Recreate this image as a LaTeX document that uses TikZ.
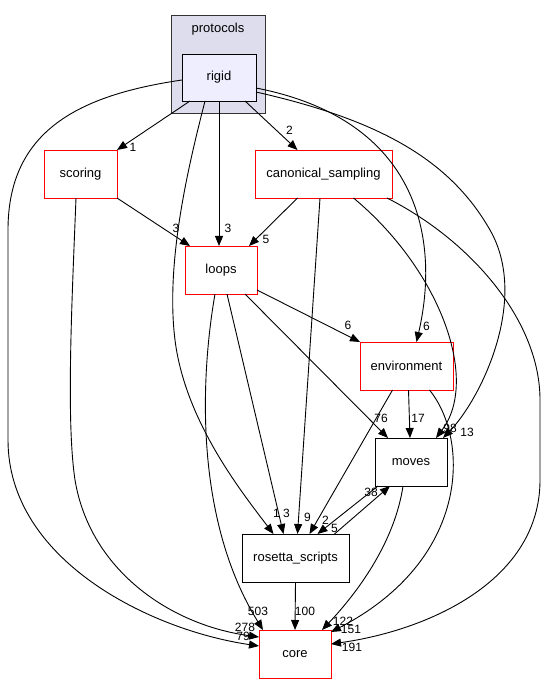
\documentclass[tikz,border=0pt]{standalone}
\usepackage{fontspec}
\setmainfont{Liberation Sans}
\usetikzlibrary{arrows.meta, positioning}
\tikzset{
dirbox/.style={rectangle, draw, line width=0.9pt, minimum width=72pt, minimum height=48pt, inner sep=0pt, outer sep=0pt, font=\fontsize{13}{15}\selectfont},
redbox/.style={dirbox, draw=red},
dep/.style={-{Triangle[length=10pt,width=8pt]}, line width=0.9pt},
lbl/.style={font=\fontsize{12}{12}\selectfont, inner sep=0pt},
% >=latex,
}

\begin{document}
\begin{tikzpicture}[x=1pt, y=-1pt]
\useasboundingbox (0,0) rectangle (546,684);
% Nodes
\node (protocols) [draw=black!80, fill={rgb,255:red,221;green,221;blue,238}, line width=0.9pt, minimum width=94pt, minimum height=98pt, outer sep=0pt] at (218,64) {};
\node (protlabel) [below=7.5pt of protocols.north, inner sep=0pt, font=\fontsize{13}{15}\selectfont] {protocols};
\node (rigid) [dirbox, fill={rgb,255:red,238;green,238;blue,255}, minimum width=74pt, minimum height=47pt] at (219,77.5) {rigid};
\node (scoring) [redbox, minimum width=73pt] at (80.5,174) {scoring};
\node (canonical) [redbox, minimum width=137pt] at (323.5,174) {canonical\_sampling};
\node (loops) [redbox] at (221,270) {loops};
\node (env) [redbox, minimum width=93pt] at (406.5,366) {environment};
\node (moves) [dirbox] at (411,462) {moves};
\node (rosetta) [dirbox, minimum width=107pt] at (295.5,558) {rosetta\_scripts};
\node (core) [redbox] at (295,654) {core};

% Connectors
\begin{scope}[dep]
\draw ([xshift=-29pt]rigid.south) -- (scoring.north east) node[lbl, at end, xshift=16pt, yshift=3pt] {1};
\draw ([xshift=26pt]rigid.south) -- ([xshift=-26pt]canonical.north) node[lbl, at end, xshift=-8pt, yshift=20pt] {2};
\draw (rigid.south) -- ([xshift=-2pt]loops.north) node[lbl, at end, xshift=9pt, yshift=18pt] {3};
\draw ([xshift=-14pt]rigid.south) .. controls (190,160) and (165,260) .. (175,340) .. controls (185,420) and (240,490) .. ([xshift=-22pt]rosetta.north) node[lbl, at end, xshift=3pt, yshift=21pt] {1};
\draw ([yshift=-10.5pt]rigid.east) .. controls (420,120) and (440,240) .. ([xshift=10pt]env.north) node[lbl, at end, xshift=10pt, yshift=16pt] {6};
\draw ([yshift=-14.5pt]rigid.east) .. controls (380,120) and (450,160) .. (490,230) .. controls (530,300) and (480,400) .. ([xshift=32pt]moves.north) node[lbl, at end, xshift=24pt, yshift=6pt] {13};
\draw ([yshift=-2.5pt]rigid.west) .. controls (80,95) and (8,130) .. (8,230) -- (8,440) .. controls (8,560) and (150,630) .. ([yshift=8pt]core.west) node[lbl, at end, xshift=-16pt, yshift=10pt] {79};

\draw ([xshift=-4.5pt]scoring.south) .. controls (72,300) and (66,420) .. (75,480) .. controls (90,570) and (170,625) .. ([yshift=17pt]core.west) node[lbl, at end, xshift=-14pt, yshift=10pt] {278};
\draw (scoring.south east) -- ([xshift=-31pt]loops.north) node[lbl, at end, xshift=-14pt, yshift=18pt] {3};

\draw ([xshift=-26pt]canonical.south) -- ([xshift=28pt]loops.north) node[lbl, at end, xshift=17pt, yshift=7pt] {5};
\draw ([xshift=-3.5pt]canonical.south) -- ([xshift=2pt]rosetta.north) node[lbl, at end, xshift=10pt, yshift=17pt] {9};
\draw ([xshift=30pt]canonical.south) .. controls (440,270) and (480,380) .. ([xshift=25pt]moves.north) node[lbl, at end, xshift=14pt, yshift=10pt] {98};
\draw ([xshift=-5pt]canonical.south east) .. controls (470,240) and (540,320) .. (540,400) -- (540,480) .. controls (540,580) and (430,630) .. ([yshift=10pt]core.east) node[lbl, at end, xshift=21pt, yshift=-3pt] {191};

\draw ([yshift=-20pt]loops.east) -- (env.north west) node[lbl, at end, xshift=-12pt, yshift=17pt] {6};
\draw ([xshift=24pt]loops.south) -- ([xshift=-23pt]moves.north) node[lbl, at end, xshift=-7pt, yshift=20pt] {76};
\draw ([xshift=6pt]loops.south) -- ([xshift=-12pt]rosetta.north) node[lbl, at end, xshift=3pt, yshift=21pt] {3};
\draw ([xshift=-6pt]loops.south) .. controls (200,380) and (195,520) .. ([xshift=-32pt]core.north) node[lbl, at end, xshift=-5pt, yshift=19pt] {503};

\draw ([xshift=2pt]env.south) -- ([xshift=-1pt]moves.north) node[lbl, at end, xshift=8pt, yshift=20pt] {17};
\draw ([xshift=-14pt]env.south) -- ([xshift=14pt]rosetta.north) node[lbl, at end, xshift=16pt, yshift=14pt] {2};
\draw ([xshift=23pt]env.south) .. controls (470,440) and (470,560) .. ([yshift=22pt]core.east) node[lbl, at end, xshift=20pt, yshift=3pt] {151};

\draw ([xshift=-8pt]moves.south) .. controls (395,540) and (360,590) .. ([xshift=27pt]core.north) node[lbl, at end, xshift=21pt, yshift=9pt] {122};
\draw ([xshift=-33pt]moves.south) -- ([xshift=22pt]rosetta.north) node[lbl, at end, xshift=17pt, yshift=6pt] {5};
\draw ([xshift=39pt]rosetta.north) -- ([xshift=-21pt]moves.south) node[lbl, at end, xshift=-19pt, yshift=-6pt] {38};
\draw (rosetta.south) -- (core.north) node[lbl, at end, xshift=10pt, yshift=19pt] {100};
\end{scope}

\end{tikzpicture}
\end{document}
